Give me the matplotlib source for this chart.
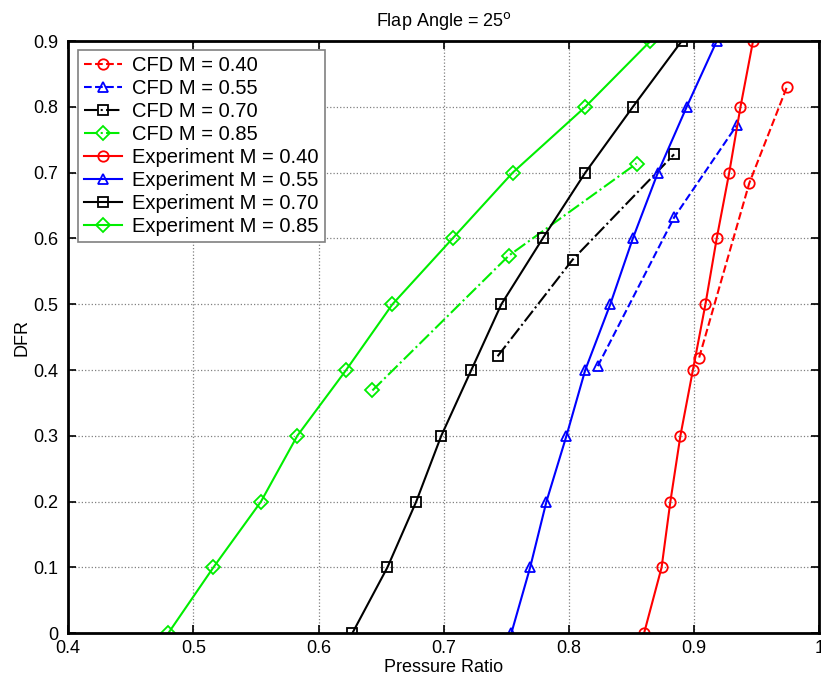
import matplotlib.pyplot as plt
import numpy as np

plt.rcParams["font.family"] = ["Liberation Sans", "DejaVu Sans"]

# DFR levels for the experiment curves
dfr_exp = [0, 0.1, 0.2, 0.3, 0.4, 0.5, 0.6, 0.7, 0.8, 0.9]

# Experiment pressure ratios, one list per Mach number
exp_m040 = [0.860, 0.874, 0.881, 0.889, 0.899, 0.909, 0.918, 0.928, 0.937, 0.947]
exp_m055 = [0.754, 0.769, 0.782, 0.798, 0.813, 0.833, 0.851, 0.871, 0.894, 0.918]
exp_m070 = [0.627, 0.655, 0.678, 0.698, 0.722, 0.746, 0.779, 0.813, 0.851, 0.890]
exp_m085 = [0.480, 0.516, 0.554, 0.583, 0.622, 0.659, 0.707, 0.755, 0.813, 0.865]

# CFD points (pressure ratio, DFR)
cfd_m040_x = [0.904, 0.944, 0.974]
cfd_m040_y = [0.419, 0.684, 0.830]
cfd_m055_x = [0.823, 0.884, 0.934]
cfd_m055_y = [0.406, 0.632, 0.772]
cfd_m070_x = [0.743, 0.803, 0.884]
cfd_m070_y = [0.421, 0.568, 0.728]
cfd_m085_x = [0.643, 0.752, 0.854]
cfd_m085_y = [0.369, 0.574, 0.714]

GREEN = "#00ee00"

fig = plt.figure(figsize=(8.21, 6.86), dpi=100)
ax = fig.add_axes([0.083, 0.077, 0.915, 0.863])

mk = dict(markersize=7.5, markerfacecolor="none", markeredgewidth=1.3, linewidth=1.5)
mkd = dict(markersize=7, markerfacecolor="none", markeredgewidth=1.3, linewidth=1.5)

ax.plot(cfd_m040_x, cfd_m040_y, "--", color="red", marker="o", label="CFD M = 0.40", **mk)
ax.plot(cfd_m055_x, cfd_m055_y, "--", color="blue", marker="^", label="CFD M = 0.55", **mk)
ax.plot(cfd_m070_x, cfd_m070_y, "-.", color="black", marker="s", label="CFD M = 0.70", **mk)
ax.plot(cfd_m085_x, cfd_m085_y, "-.", color=GREEN, marker="D", label="CFD M = 0.85", **mkd)

ax.plot(exp_m040, dfr_exp, "-", color="red", marker="o", label="Experiment M = 0.40", **mk)
ax.plot(exp_m055, dfr_exp, "-", color="blue", marker="^", label="Experiment M = 0.55", **mk)
ax.plot(exp_m070, dfr_exp, "-", color="black", marker="s", label="Experiment M = 0.70", **mk)
ax.plot(exp_m085, dfr_exp, "-", color=GREEN, marker="D", label="Experiment M = 0.85", **mkd)

ax.set_xlim(0.4, 1.0)
ax.set_ylim(0, 0.9)
ax.set_xticks(np.arange(0.4, 1.01, 0.1))
ax.set_xticklabels(["0.4", "0.5", "0.6", "0.7", "0.8", "0.9", "1"])
ax.set_yticks(np.arange(0, 0.91, 0.1))
ax.set_yticklabels(["0", "0.1", "0.2", "0.3", "0.4", "0.5", "0.6", "0.7", "0.8", "0.9"])
ax.tick_params(direction="in", length=6, width=1.2, labelsize=13, top=True, right=True)
ax.tick_params(axis="y", pad=7)
ax.tick_params(axis="x", pad=5)
ax.grid(True, color="gray", linestyle=":", linewidth=0.9)
for sp in ax.spines.values():
    sp.set_linewidth(2)

ax.set_xlabel("Pressure Ratio", fontsize=13, labelpad=1)
ax.set_ylabel("DFR", fontsize=13, labelpad=2)
ax.set_title("Flap Angle = 25$^{\\mathrm{o}}$", fontsize=13, pad=11)

leg = ax.legend(loc="upper left", fontsize=14.5, handlelength=1.9, labelspacing=0.2,
                borderpad=0.3, handletextpad=0.5, fancybox=False, framealpha=1,
                borderaxespad=0, bbox_to_anchor=(0.013, 0.985))
leg.get_frame().set_edgecolor("gray")
leg.get_frame().set_linewidth(1.2)

fig.savefig("out.png", dpi=100)
